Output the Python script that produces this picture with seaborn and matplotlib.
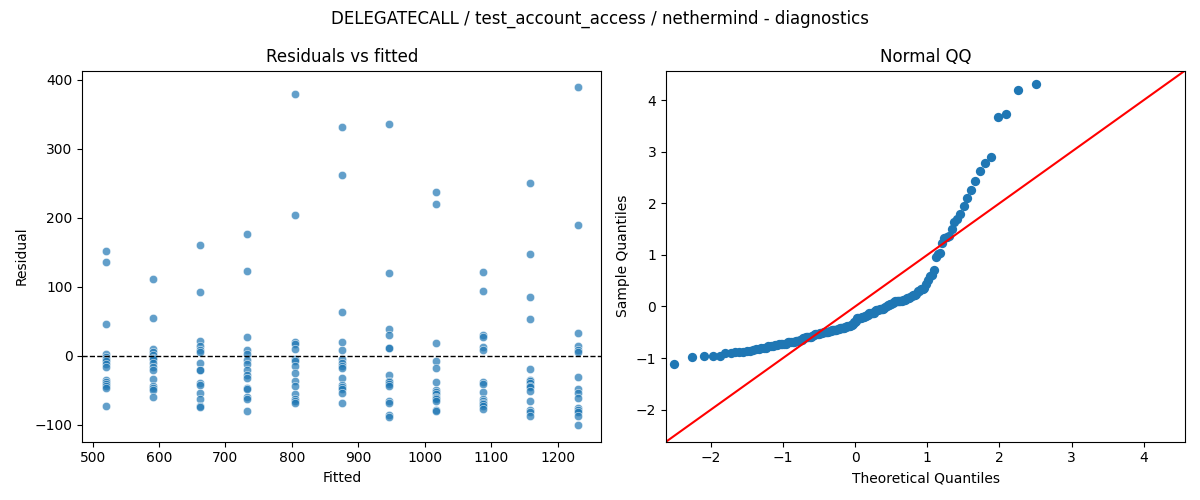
import numpy as np
import pandas as pd
import matplotlib
matplotlib.use("Agg")
import matplotlib.pyplot as plt
import seaborn as sns
from statistics import NormalDist

# === Data (15 runs per fitted level) ===
fitted_levels = [520, 591, 662, 733, 804, 875, 946, 1017, 1088, 1159, 1230]

resid_520 = [152, 136, 46, 3, -1, -4, -7, -12, -16, -35, -38, -41, -44, -46, -72]
resid_591 = [111, 55, 10, 5, 1, -3, -5, -11, -16, -20, -34, -44, -47, -50, -59]
resid_662 = [161, 92, 22, 14, 9, 5, -11, -20, -20, -39, -42, -54, -62, -73, -74]
resid_733 = [176, 123, 27, 8, 3, -6, -12, -21, -28, -32, -46, -48, -59, -62, -80]
resid_804 = [379, 204, 20, 17, 10, -4, -7, -15, -25, -36, -43, -55, -62, -66, -69]
resid_875 = [331, 262, 63, 20, 9, -5, -11, -15, -18, -32, -42, -45, -48, -54, -69]
resid_946 = [336, 120, 39, 30, 12, 11, -28, -36, -38, -41, -44, -66, -68, -86, -88]
resid_1017 = [237, 220, 18, -8, -18, -38, -49, -53, -56, -60, -61, -63, -66, -78, -80]
resid_1088 = [122, 94, 30, 27, 13, 9, -38, -41, -53, -63, -66, -68, -70, -72, -77]
resid_1159 = [250, 147, 86, 53, -19, -35, -37, -40, -43, -45, -51, -65, -79, -82, -87]
resid_1230 = [389, 189, 33, 15, 9, 6, -31, -48, -54, -61, -75, -78, -82, -87, -100]

all_resid = [resid_520, resid_591, resid_662, resid_733, resid_804, resid_875,
             resid_946, resid_1017, resid_1088, resid_1159, resid_1230]

title = "DELEGATECALL / test_account_access / nethermind - diagnostics"

# long table for the residual plot
rows = []
for f, rs in zip(fitted_levels, all_resid):
    for r in rs:
        rows.append({"Fitted": f, "Residual": r})
df = pd.DataFrame(rows)

# Normal QQ (standardised, plotting positions i/(n+1))
res = df["Residual"].to_numpy(dtype=float)
n = len(res)
sample_q = np.sort((res - res.mean()) / res.std())
nd = NormalDist()
theo_q = np.array([nd.inv_cdf(i / (n + 1)) for i in range(1, n + 1)])
qq = pd.DataFrame({"theo": theo_q, "sample": sample_q})

fig, axes = plt.subplots(1, 2, figsize=(12, 5), dpi=100)

# 1. Residuals vs fitted
ax = axes[0]
sns.scatterplot(data=df, x="Fitted", y="Residual", alpha=0.7, ax=ax)
ax.axhline(0, color="black", linestyle="--", linewidth=1)
ax.set_title("Residuals vs fitted")
ax.set_xlabel("Fitted")
ax.set_ylabel("Residual")

# 2. Normal QQ
ax = axes[1]
sns.scatterplot(data=qq, x="theo", y="sample", s=45, linewidth=0, color="#1f77b4", ax=ax)
lims = [-2.62, 4.57]
ax.plot(lims, lims, color="red", linewidth=1.5)
ax.set_xlim(lims)
ax.set_ylim(lims)
ax.set_title("Normal QQ")
ax.set_xlabel("Theoretical Quantiles")
ax.set_ylabel("Sample Quantiles")

fig.suptitle(title)
plt.tight_layout()
plt.savefig("out.png")
